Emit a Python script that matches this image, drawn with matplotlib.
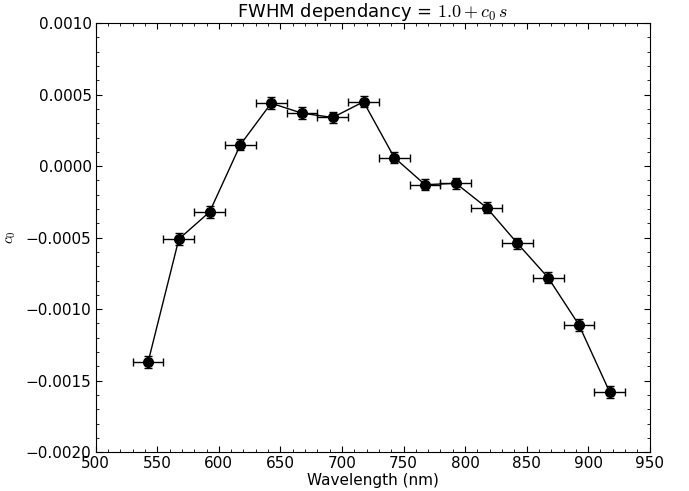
import matplotlib
matplotlib.use("Agg")
import matplotlib.pyplot as plt
from matplotlib.ticker import MultipleLocator, FormatStrFormatter

plt.rcParams['mathtext.fontset'] = 'cm'
plt.rcParams['xtick.direction'] = 'in'
plt.rcParams['ytick.direction'] = 'in'

# longueurs d'onde (centre des bandes) et coefficient c0
wavelength = [542.5, 567.5, 592.5, 617.5, 642.5, 667.5, 692.5, 717.5,
              742.5, 767.5, 792.5, 817.5, 842.5, 867.5, 892.5, 917.5]
c0 = [-0.00137, -0.00051, -0.00032, 0.00015, 0.00044, 0.00037, 0.00034, 0.00045,
      0.00006, -0.00013, -0.00012, -0.00029, -0.00054, -0.00078, -0.00111, -0.00158]
wl_err = [12.5] * 16
c0_err = [0.00004] * 16

fig = plt.figure(figsize=(6.89, 4.91), dpi=100)
ax = fig.add_axes([0.139, 0.079, 0.804, 0.874])

ax.errorbar(wavelength, c0, xerr=wl_err, yerr=c0_err, fmt='o-', color='black',
            ecolor='black', markersize=7, linewidth=1, elinewidth=1, capsize=3)

ax.set_xlim(500, 950)
ax.set_ylim(-0.002, 0.001)
ax.xaxis.set_major_locator(MultipleLocator(50))
ax.xaxis.set_minor_locator(MultipleLocator(10))
ax.yaxis.set_major_locator(MultipleLocator(0.0005))
ax.yaxis.set_minor_locator(MultipleLocator(0.0001))
ax.yaxis.set_major_formatter(FormatStrFormatter('%.4f'))
ax.tick_params(which='both', top=True, right=True, labelsize=11, pad=3)
ax.tick_params(which='major', length=4.5)
ax.tick_params(which='minor', length=2.5)

# remplacer le tiret par un signe moins
ax.set_yticks(ax.get_yticks())
ax.set_yticklabels([('\u2212%.4f' % -v) if v < 0 else ('%.4f' % v) for v in ax.get_yticks()])
ax.set_ylim(-0.002, 0.001)

ax.set_xlabel('Wavelength (nm)', fontsize=11, labelpad=1)
ax.set_ylabel('$c_0$', fontsize=11, labelpad=6)
ax.set_title('FWHM dependancy = $1.0 + c_0\\, s$', fontsize=13, pad=4)

plt.savefig('out.png', dpi=100)
